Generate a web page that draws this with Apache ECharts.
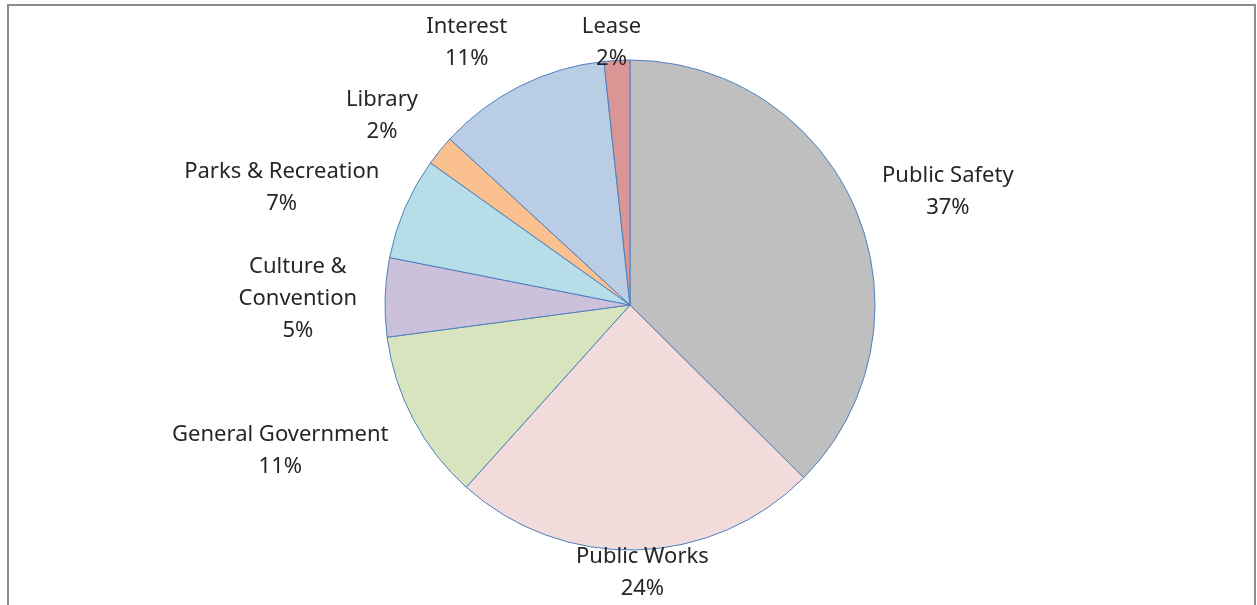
<!DOCTYPE html>
<html>
<head>
<meta charset="utf-8">
<script src="https://cdn.jsdelivr.net/npm/echarts@6/dist/echarts.min.js"></script>
<style>
html,body{margin:0;padding:0;background:#fff;}
#chart{width:1257px;height:605px;}
</style>
</head>
<body>
<div id="chart"></div>
<script>
const categories = ['Public Safety', 'Public Works', 'General Government', 'Culture &\nConvention', 'Parks & Recreation', 'Library', 'Interest', 'Lease'];
const values = [37.45, 24.2, 11.25, 5.2, 6.75, 2.0, 11.45, 1.7];
const colors = ['#BFBFBF', '#F2DCDB', '#D7E4BD', '#CCC1DA', '#B7DEE8', '#FAC090', '#B9CDE5', '#D99694'];

const total = values.reduce((a, b) => a + b, 0);
const CX = 630, CY = 305, R = 245, GAP = 28;
const W = 1257, H = 605;

function midAngle(i) {
  let before = 0;
  for (let k = 0; k < i; k++) before += values[k];
  return (before + values[i] / 2) / total * 2 * Math.PI;
}

const chart = echarts.init(document.getElementById('chart'), null, {renderer: 'canvas'});
chart.setOption({
  animation: false,
  backgroundColor: '#ffffff',
  graphic: [{
    type: 'rect',
    shape: {x: 8, y: 5, width: 1247, height: 700},
    style: {fill: 'none', stroke: '#8c8c8c', lineWidth: 2},
    silent: true
  }],
  series: [{
    type: 'pie',
    center: [CX, CY],
    radius: R,
    startAngle: 90,
    clockwise: true,
    avoidLabelOverlap: false,
    data: categories.map((c, i) => ({name: c, value: values[i], itemStyle: {color: colors[i]}})),
    itemStyle: {borderColor: '#4F81BD', borderWidth: 1},
    label: {
      show: true,
      position: 'outside',
      formatter: p => p.name + '\n' + Math.round(p.value / total * 100) + '%',
      fontFamily: '"Noto Sans", sans-serif',
      fontSize: 22,
      lineHeight: 32,
      color: '#262626',
      align: 'center'
    },
    labelLine: {show: false},
    emphasis: {disabled: true},
    labelLayout: function (params) {
      const i = params.dataIndex;
      const t = midAngle(i);
      const s = Math.sin(t), c = Math.cos(t);
      const w = params.labelRect.width, h = params.labelRect.height;
      const k = Math.sign(s) * Math.min(1, Math.abs(s) * 2.5);
      let x = CX + (R + GAP) * s + k * w / 2;
      let y = CY - (R + GAP) * c - c * h / 2 + 4 * Math.abs(s);
      y = Math.max(h / 2 + 11, Math.min(H - h / 2, y));
      return {x: x, y: y, align: 'center', verticalAlign: 'middle'};
    }
  }]
});
</script>
</body>
</html>
